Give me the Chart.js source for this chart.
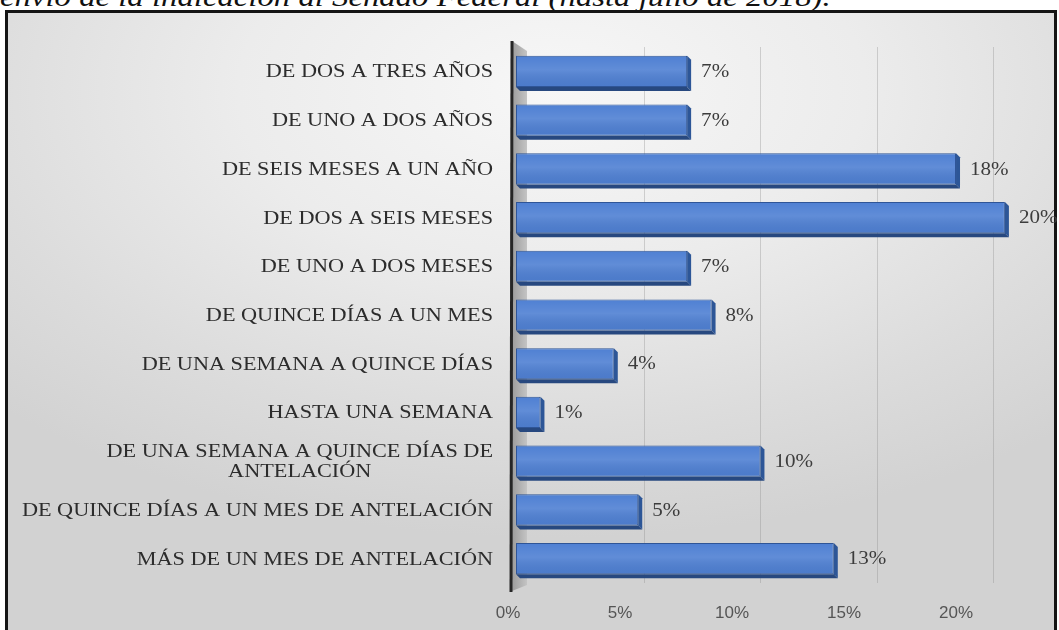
<!DOCTYPE html>
<html lang="es">
<head>
<meta charset="utf-8">
<title>Plazo de envío de la indicación</title>
<script src="https://cdn.jsdelivr.net/npm/chart.js@4.4.1/dist/chart.umd.min.js"></script>
<style>
  html, body { margin: 0; padding: 0; background: #fff; overflow: hidden; }
  #wrap { position: relative; width: 1059px; height: 630px; overflow: hidden; }
  #caption {
    position: absolute; left: 0; top: -17px; white-space: nowrap;
    font: italic 28px/28px "Liberation Serif", "Times New Roman", serif; color: #111;
    transform: scaleX(1.17); transform-origin: 0 0;
  }
  #frame {
    position: absolute; left: 5px; top: 10px; width: 1046px; height: 640px;
    border: 3px solid #151515;
    background: radial-gradient(ellipse 75% 70% at 52% 12%, #f7f7f7 0%, #ececec 40%, #dcdcdc 75%, #d2d2d2 100%);
  }
  #chart { position: absolute; left: 0; top: 0; }
</style>
</head>
<body>
<div id="wrap">
  <div id="caption">envío de la indicación al Senado Federal (hasta julio de 2018).</div>
  <div id="frame"></div>
  <canvas id="chart" width="1059" height="630"></canvas>
</div>
<script>
// --- Datos ---
const categorias = [
    'DE DOS A TRES AÑOS',
    'DE UNO A DOS AÑOS',
    'DE SEIS MESES A UN AÑO',
    'DE DOS A SEIS MESES',
    'DE UNO A DOS MESES',
    'DE QUINCE DÍAS A UN MES',
    'DE UNA SEMANA A QUINCE DÍAS',
    'HASTA UNA SEMANA',
    ['DE UNA SEMANA A QUINCE DÍAS DE', 'ANTELACIÓN'],
    'DE QUINCE DÍAS A UN MES DE ANTELACIÓN',
    'MÁS DE UN MES DE ANTELACIÓN'
];
const porcentajes = [7, 7, 18, 20, 7, 8, 4, 1, 10, 5, 13];
const ticksPiso = [0, 5, 10, 15, 20];
const ticksPared = [5, 10, 15, 20];

// texto ligeramente ensanchado, como el original exportado
const SX = 1.17;
const DEPTH = 4;

function textoAncho(ctx, txt, x, y, align) {
    ctx.save();
    ctx.translate(x, y);
    ctx.scale(SX, 1);
    ctx.textAlign = align;
    ctx.fillText(txt, 0, 0);
    ctx.restore();
}

// pared izquierda (efecto 3D)
const paredPlugin = {
    id: 'pared',
    beforeDatasetsDraw(chart) {
        const { ctx, chartArea: a } = chart;
        const x0 = a.left - 4;
        ctx.save();
        const g = ctx.createLinearGradient(x0, 0, x0 + 15, 0);
        g.addColorStop(0, '#9c9c9c');
        g.addColorStop(1, '#c4c4c4');
        ctx.fillStyle = g;
        ctx.beginPath();
        ctx.moveTo(x0, a.top - 6);
        ctx.lineTo(x0 + 15, a.top + 4);
        ctx.lineTo(x0 + 15, a.bottom + 2);
        ctx.lineTo(x0, a.bottom + 8);
        ctx.closePath();
        ctx.fill();
        ctx.strokeStyle = '#262626';
        ctx.lineWidth = 3;
        ctx.beginPath();
        ctx.moveTo(x0, a.top - 6);
        ctx.lineTo(x0 - 1, a.bottom + 9);
        ctx.stroke();
        ctx.restore();
    }
};

// caras laterales de las barras + etiquetas de valor
const barras3dPlugin = {
    id: 'barras3d',
    afterDatasetsDraw(chart) {
        const { ctx } = chart;
        const meta = chart.getDatasetMeta(0);
        ctx.save();
        meta.data.forEach((bar, i) => {
            const { x, y, base, height } = bar.getProps(['x', 'y', 'base', 'height'], true);
            const top = y - height / 2, bottom = y + height / 2;
            // brillo de la cara frontal
            const g = ctx.createLinearGradient(0, top, 0, bottom);
            g.addColorStop(0, 'rgba(255,255,255,0)');
            g.addColorStop(0.45, 'rgba(255,255,255,0.10)');
            g.addColorStop(1, 'rgba(0,0,0,0.04)');
            ctx.fillStyle = g;
            ctx.fillRect(base + 1, top + 1, x - base - 2, height - 2);
            // cara derecha
            ctx.fillStyle = '#2d5697';
            ctx.beginPath();
            ctx.moveTo(x, top);
            ctx.lineTo(x + DEPTH, top + DEPTH);
            ctx.lineTo(x + DEPTH, bottom + DEPTH);
            ctx.lineTo(x, bottom);
            ctx.closePath();
            ctx.fill();
            // cara inferior
            ctx.fillStyle = '#27487f';
            ctx.beginPath();
            ctx.moveTo(base, bottom);
            ctx.lineTo(x, bottom);
            ctx.lineTo(x + DEPTH, bottom + DEPTH);
            ctx.lineTo(base + DEPTH, bottom + DEPTH);
            ctx.closePath();
            ctx.fill();
            // valor
            ctx.fillStyle = '#3c3c3c';
            ctx.font = '18px "Liberation Serif", "Times New Roman", serif';
            ctx.textBaseline = 'middle';
            textoAncho(ctx, porcentajes[i] + '%', x + DEPTH + 10, y + 1, 'left');
        });
        ctx.restore();
    }
};

// etiquetas de categoría (multilínea centradas dentro del bloque)
const categoriasPlugin = {
    id: 'categorias',
    afterDraw(chart) {
        const { ctx } = chart;
        const yScale = chart.scales.y;
        const derecha = chart.chartArea.left - 23;
        ctx.save();
        ctx.font = '19px "Liberation Serif", "Times New Roman", serif';
        ctx.fillStyle = '#2c2c2c';
        ctx.textBaseline = 'middle';
        categorias.forEach((cat, i) => {
            const lineas = Array.isArray(cat) ? cat : [cat];
            const anchos = lineas.map(l => ctx.measureText(l).width * SX);
            const bloque = Math.max(...anchos);
            const cx = derecha - bloque / 2;
            const yc = yScale.getPixelForTick(i);
            const lh = 20;
            lineas.forEach((l, k) => {
                const ly = yc + 1 + (k - (lineas.length - 1) / 2) * lh;
                textoAncho(ctx, l, cx, ly, 'center');
            });
        });
        ctx.restore();
    }
};

const ctx = document.getElementById('chart').getContext('2d');
const grafico = new Chart(ctx, {
    type: 'bar',
    data: {
        labels: categorias,
        datasets: [{
            data: porcentajes,
            backgroundColor: '#4f80d3',
            borderColor: '#2f5597',
            borderWidth: 1,
            borderSkipped: false,
            categoryPercentage: 1,
            barPercentage: 0.64
        }]
    },
    plugins: [paredPlugin, barras3dPlugin, categoriasPlugin],
    options: {
        indexAxis: 'y',
        responsive: false,
        animation: false,
        devicePixelRatio: 1,
        layout: { padding: { top: 47, right: 14, bottom: 0, left: 0 } },
        plugins: { legend: { display: false }, tooltip: { enabled: false } },
        scales: {
            y: {
                ticks: { display: false },
                grid: { display: false },
                border: { display: false },
                afterFit: s => { s.width = 516; }
            },
            // eje de las barras (cara frontal)
            x: {
                min: 0, max: 21.64,
                ticks: { display: false },
                grid: { display: false },
                border: { display: false },
                afterFit: s => { s.height = 0; }
            },
            // líneas de la pared del fondo
            xg: {
                position: 'bottom',
                min: -0.515, max: 22.19,
                afterBuildTicks: s => { s.ticks = ticksPared.map(v => ({ value: v })); },
                ticks: { display: false },
                grid: { color: 'rgba(140,140,140,0.35)', lineWidth: 1, drawTicks: false },
                border: { display: false },
                afterFit: s => { s.height = 0; }
            },
            // rótulos del piso (el 0 queda un poco a la izquierda de la pared)
            xf: {
                position: 'bottom',
                min: 0.357, max: 23.97,
                afterBuildTicks: s => { s.ticks = ticksPiso.map(v => ({ value: v })); },
                ticks: {
                    padding: 20,
                    color: '#555555',
                    font: { family: '"Liberation Sans", Arial, sans-serif', size: 17 },
                    callback: v => v + '%'
                },
                grid: { display: false, drawTicks: false },
                border: { display: false },
                afterFit: s => { s.height = 47; }
            }
        }
    }
});
</script>
</body>
</html>
